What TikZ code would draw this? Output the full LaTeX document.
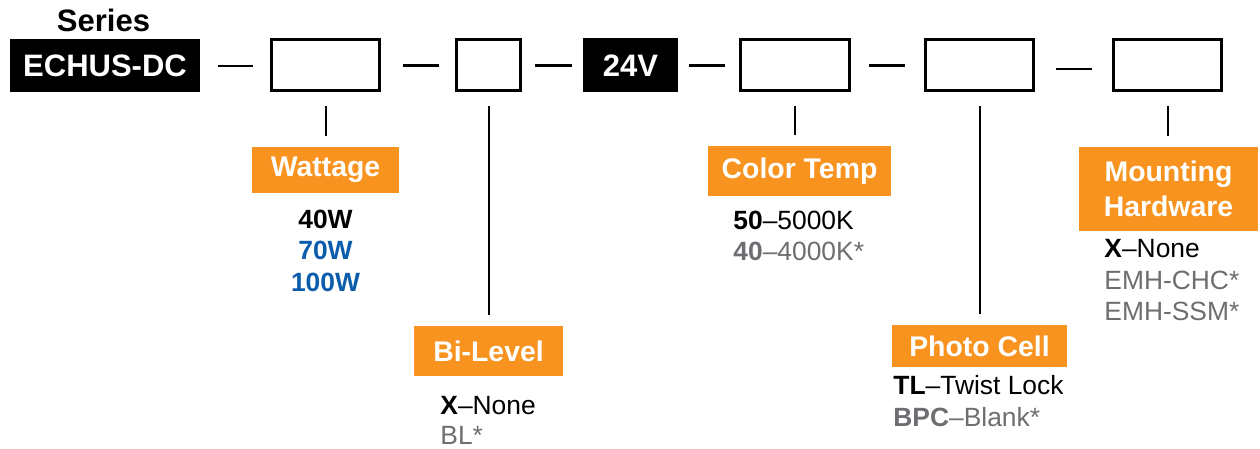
\documentclass[tikz,border=0pt]{standalone}
\usepackage{fontspec}
\setmainfont{Liberation Sans}
\usetikzlibrary{positioning}
\definecolor{tagorange}{HTML}{F7931E}
\definecolor{optblue}{HTML}{0B5CAB}
\definecolor{optgray}{HTML}{6D6E71}

\tikzset{
  every field/.style={draw, line width=1.5pt, inner sep=0pt},
  fixed field/.style={fill=black, text=white, inner sep=0pt,
    font=\fontsize{15.5}{18}\selectfont\bfseries},
  every tag/.style={fill=tagorange, text=white, inner sep=0pt, align=center,
    font=\fontsize{14.2}{17.5}\selectfont\bfseries},
  every option/.style={inner sep=0pt, font=\fontsize{13.2}{15}\selectfont},
  bold option/.style={inner sep=0pt, font=\fontsize{13.2}{15}\selectfont\bfseries},
  joiner/.style={line width=1.25pt},
  leader/.style={line width=1pt, shorten <=7pt, shorten >=5.5pt}
}

\begin{document}
\begin{tikzpicture}[x=0.5pt, y=-0.5pt]

\useasboundingbox (0,0) rectangle (1260,449);

\node [anchor=base, inner sep=0pt, font=\fontsize{15.5}{18}\selectfont\bfseries]
  (series-title) at (103.5,32) {Series};

\node [fixed field, minimum width=95pt, minimum height=26.5pt] (series) at (105,66) {ECHUS-DC};
\node [fixed field, minimum width=47.5pt, minimum height=27pt] (voltage) at (630.5,65.5) {24V};

\foreach \x/\w [count=\i] in {325.5/108, 488.5/64, 795/109, 979.5/108, 1167.5/108}
  \node [every field, minimum width=\w*0.5pt, minimum height=25.5pt] (field-\i) at (\x,65.5) {};

\foreach \a/\b/\l/\r/\d in {series/field-1/18/17/0, field-1/field-2/22/16/0, field-2/voltage/13/11/0,
    voltage/field-3/11/14/0, field-3/field-4/18/19/0, field-4/field-5/21/20/3.5}
  \draw [joiner] ([xshift=\l*0.5pt, yshift=-\d*0.5pt]\a.east)
    -- ([xshift=-\r*0.5pt, yshift=-\d*0.5pt]\a.east -| \b.west);

\foreach \x/\y/\w/\h/\t [count=\i] in {325.5/170/147/46/Wattage, 488.5/351/149/50/Bi-Level,
    799.5/171/183/50/Color Temp, 979.5/346/175/42/Photo Cell,
    1168.5/189/179/84/{Mounting\\Hardware}}
  \node [every tag, minimum width=\w*0.5pt, minimum height=\h*0.5pt] (tag-\i) at (\x,\y) {\t};

\foreach \i in {1,...,5}
  \draw [leader] (field-\i.south) -- (field-\i.south |- tag-\i.north);

\foreach \t/\c [count=\i] in {40W/black, 70W/optblue, 100W/optblue}
  \node [bold option, text=\c, anchor=base] (watt-\i) at (325.5,{228+(\i-1)*32}) {\t};

\foreach \t/\c [count=\i] in {{\textbf{X}--None}/black, BL*/optgray}
  \node [every option, text=\c, anchor=base west] (level-\i) at (440,{414+(\i-1)*30}) {\t};

\foreach \t/\c [count=\i] in {{\textbf{50}--5000K}/black, {\textbf{40}--4000K*}/optgray}
  \node [every option, text=\c, anchor=base west] (temp-\i) at (733,{229+(\i-1)*32}) {\t};

\foreach \t/\c [count=\i] in {{\textbf{TL}--Twist Lock}/black, {\textbf{BPC}--Blank*}/optgray}
  \node [every option, text=\c, anchor=base west] (cell-\i) at (893,{394+(\i-1)*32}) {\t};

\foreach \t/\c [count=\i] in {{\textbf{X}--None}/black, EMH-CHC*/optgray, EMH-SSM*/optgray}
  \node [every option, text=\c, anchor=base west] (mount-\i) at (1104,{257+(\i-1)*32}) {\t};

\end{tikzpicture}
\end{document}
